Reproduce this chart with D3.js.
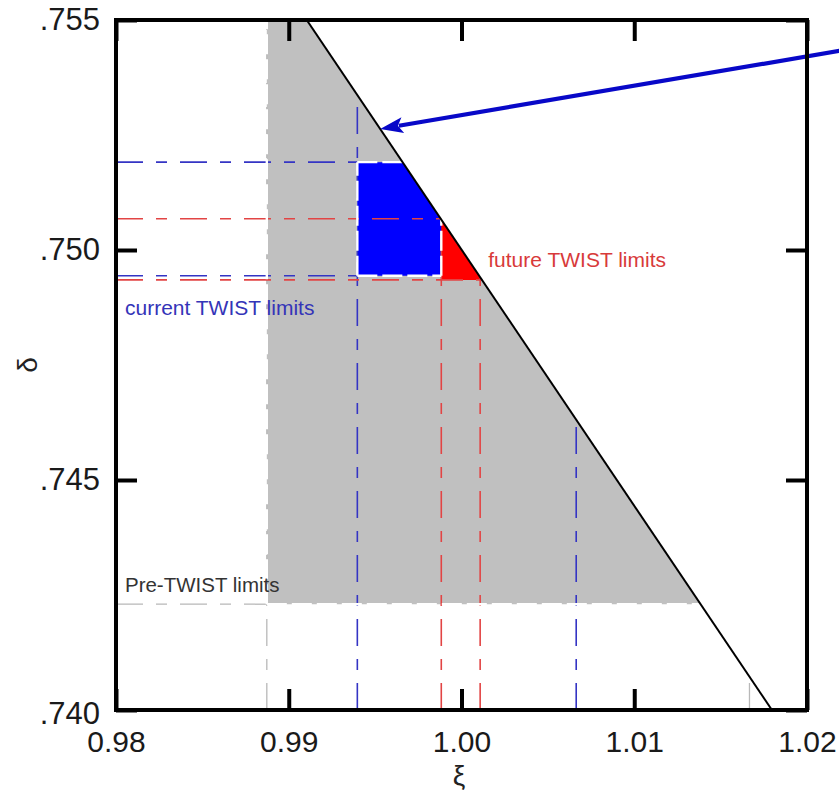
<!DOCTYPE html>
<html>
<head>
<meta charset="utf-8">
<script src="https://cdn.jsdelivr.net/npm/d3@7"></script>
<style>
  html, body { margin: 0; padding: 0; background: #fff; }
  svg { display: block; }
  text { font-family: "Liberation Sans", Arial, sans-serif; }
</style>
</head>
<body>
<svg id="chart" width="839" height="793"></svg>
<script>
// ---------------- data ----------------
const xTicks = [0.98, 0.99, 1.00, 1.01, 1.02];
const yTicks = [0.740, 0.745, 0.750, 0.755];
const xDomain = [0.98, 1.02];
const yDomain = [0.740, 0.755];

// constraint line (xi, delta)
const constraintLine = [[0.99104, 0.755], [1.01797, 0.740]];

// limits: [xiMin, xiMax, deltaMin, deltaMax]
const preTwistLimits = [0.98873, 1.01667, 0.74230, 0.75497];
const currentLimits  = [0.99397, 1.00664, 0.74944, 0.75191];
const futureLimits   = [0.99883, 1.00108, 0.74935, 0.75068];

const labels = ["current TWIST limits", "future TWIST limits", "Pre-TWIST limits"];
const axisTitles = ["\u03be", "\u03b4"];

// arrow annotation: from (xi, delta) to tip (xi, delta)
const arrowFrom = [1.02221, 0.75435];
const arrowTip  = [0.99529, 0.752633];

// ---------------- setup ----------------
const svg = d3.select("#chart");
const M = { left: 116, top: 20, right: 807, bottom: 710 };
const x = d3.scaleLinear().domain(xDomain).range([M.left, M.right]);
const y = d3.scaleLinear().domain(yDomain).range([M.bottom, M.top]);

const [[lx0, ld0], [lx1, ld1]] = constraintLine;
const lineDelta = xi => ld0 + (xi - lx0) * (ld1 - ld0) / (lx1 - lx0);
const lineXi = d => lx0 + (d - ld0) * (lx1 - lx0) / (ld1 - ld0);

function clipBelow(lim) {
  const [a, b, c, d] = lim;
  const pts = [[a, c], [b, c], [b, d], [a, d]];
  const f = p => lineDelta(p[0]) - p[1];
  const out = [];
  for (let i = 0; i < pts.length; i++) {
    const p = pts[i], q = pts[(i + 1) % pts.length];
    const fp = f(p), fq = f(q);
    if (fp >= 0) out.push(p);
    if ((fp >= 0) !== (fq >= 0)) {
      const t = fp / (fp - fq);
      out.push([p[0] + t * (q[0] - p[0]), p[1] + t * (q[1] - p[1])]);
    }
  }
  return out;
}

const defs = svg.append("defs");
defs.append("clipPath").attr("id", "plotclip")
  .append("rect").attr("x", M.left).attr("y", M.top)
  .attr("width", M.right - M.left).attr("height", M.bottom - M.top);

const line = d3.line().x(d => x(d[0])).y(d => y(d[1]));
const plot = svg.append("g").attr("clip-path", "url(#plotclip)");

// fills
plot.append("path").datum(clipBelow(preTwistLimits))
  .attr("d", d => line(d) + "Z").attr("fill", "#c0c0c0");
plot.append("path").datum(clipBelow(currentLimits))
  .attr("d", d => line(d) + "Z").attr("fill", "#0000ff");
plot.append("path").datum(clipBelow(futureLimits))
  .attr("d", d => line(d) + "Z").attr("fill", "#ff0000");

// limit lines
const dashDot = "27,13,11,13";
function limitLines(lim, color, width, hToLine) {
  const [a, b, c, d] = lim;
  const segs = [];
  [c, d].forEach(dv => {
    const end = hToLine ? lineXi(dv) : a;
    segs.push([[xDomain[0], dv], [end, dv]]);
  });
  [a, b].forEach(xv => {
    segs.push([[xv, yDomain[0]], [xv, Math.min(lineDelta(xv), yDomain[1])]]);
  });
  plot.append("g").selectAll("path").data(segs).join("path")
    .attr("d", line).attr("fill", "none")
    .attr("stroke", color).attr("stroke-width", width)
    .attr("stroke-dasharray", dashDot);
}
limitLines(preTwistLimits, "#b8b8b8", 1.3, false);
limitLines(currentLimits, "#3434c4", 1.6, false);
limitLines(futureLimits, "#e24444", 1.6, true);

// white dashed outlines along region edges
const [pa, , pc, pd] = preTwistLimits;
const [ca, , cc, cd] = currentLimits;
const [fa, , fc, fd] = futureLimits;
const whiteSegs = [
  [[pa, pc], [pa, pd]],
  [[pa, pc], [lineXi(pc), pc]],
  [[ca, cc], [ca, cd]],
  [[ca, cd], [lineXi(cd), cd]],
  [[ca, cc], [fa, cc]],
  [[fa, cc], [fa, lineDelta(fa)]]
];
plot.append("g").selectAll("path").data(whiteSegs).join("path")
  .attr("d", line).attr("fill", "none")
  .attr("stroke", "#ffffff").attr("stroke-width", 2.4)
  .attr("stroke-dasharray", "20,5");

// constraint line
plot.append("path").datum(constraintLine).attr("d", line)
  .attr("fill", "none").attr("stroke", "#000").attr("stroke-width", 2);

// arrow
const ax0 = x(arrowFrom[0]), ay0 = y(arrowFrom[1]);
const ax1 = x(arrowTip[0]), ay1 = y(arrowTip[1]);
const ang = Math.atan2(ay1 - ay0, ax1 - ax0);
const headL = 23, headW = 8;
const bx = ax1 - headL * Math.cos(ang), by = ay1 - headL * Math.sin(ang);
svg.append("line")
  .attr("x1", ax0).attr("y1", ay0).attr("x2", bx + 4 * Math.cos(ang)).attr("y2", by + 4 * Math.sin(ang))
  .attr("stroke", "#0808c8").attr("stroke-width", 4.2);
svg.append("path")
  .attr("d", `M${ax1},${ay1}L${bx + headW * Math.sin(ang)},${by - headW * Math.cos(ang)}L${bx + 5 * Math.cos(ang)},${by + 5 * Math.sin(ang)}L${bx - headW * Math.sin(ang)},${by + headW * Math.cos(ang)}Z`)
  .attr("fill", "#0808c8");

// labels
svg.append("text").attr("x", x(0.98052)).attr("y", y(0.748587))
  .attr("font-size", 21).attr("fill", "#3434b8").text(labels[0]);
svg.append("text").attr("x", x(1.00155)).attr("y", y(0.749637))
  .attr("font-size", 21).attr("fill", "#d83a3a").text(labels[1]);
svg.append("text").attr("x", x(0.98052)).attr("y", y(0.742565))
  .attr("font-size", 20.5).attr("fill", "#333").text(labels[2]);

// frame
svg.append("rect").attr("x", M.left).attr("y", M.top)
  .attr("width", M.right - M.left).attr("height", M.bottom - M.top)
  .attr("fill", "none").attr("stroke", "#000").attr("stroke-width", 4);

// axes
const fmtY = d => d3.format(".3f")(d).replace(/^0/, "");
function styleAxis(g) {
  g.select(".domain").remove();
  g.selectAll(".tick line").attr("stroke", "#000").attr("stroke-width", 4);
  g.selectAll(".tick text").attr("fill", "#1a1a1a")
    .attr("font-family", "'Liberation Sans', Arial, sans-serif");
}
svg.append("g").attr("transform", `translate(0,${M.bottom})`)
  .call(d3.axisBottom(x).tickValues(xTicks).tickSize(-21).tickPadding(21).tickFormat(d3.format(".2f")))
  .call(styleAxis).call(g => g.selectAll(".tick text").attr("font-size", 30));
svg.append("g").attr("transform", `translate(0,${M.top})`)
  .call(d3.axisTop(x).tickValues(xTicks).tickSize(-21).tickFormat(""))
  .call(styleAxis);
svg.append("g").attr("transform", `translate(${M.left},0)`)
  .call(d3.axisLeft(y).tickValues(yTicks).tickSize(-21).tickPadding(16).tickFormat(fmtY))
  .call(styleAxis).call(g => g.selectAll(".tick text").attr("font-size", 31)
    .attr("dy", (d, i) => i === 0 ? "0.45em" : "0.32em"));
svg.append("g").attr("transform", `translate(${M.right},0)`)
  .call(d3.axisRight(y).tickValues(yTicks).tickSize(-21).tickFormat(""))
  .call(styleAxis);

// axis titles
svg.append("text").attr("x", x(0.99985)).attr("y", 785)
  .attr("text-anchor", "middle").attr("font-size", 28).attr("fill", "#222")
  .text(axisTitles[0]);
svg.append("text").attr("transform", `translate(37,365) rotate(-90)`)
  .attr("text-anchor", "middle").attr("font-size", 28).attr("fill", "#222")
  .text(axisTitles[1]);
</script>
</body>
</html>
